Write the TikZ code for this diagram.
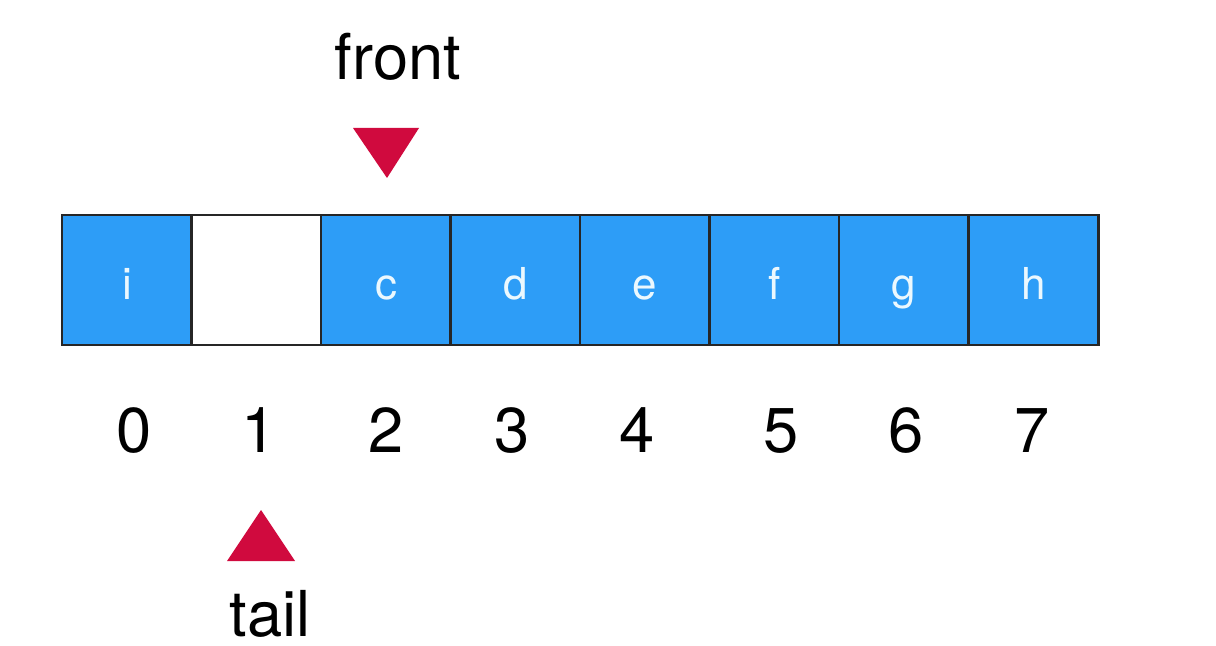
\documentclass[tikz,border=0pt]{standalone}
\usepackage{fontspec}
\setmainfont{TeX Gyre Heros}
\usetikzlibrary{positioning}
\definecolor{cellblue}{RGB}{45,157,247}
\definecolor{ptrred}{RGB}{208,10,62}
\tikzset{every node/.style={inner sep=0pt, outer sep=0pt},
  cell/.style={draw=black!85, line width=0.65pt, minimum width=1.2975cm, minimum height=1.3cm,
    text height=0.38cm, text depth=0pt, text=white!92!cyan, font=\fontsize{12.5}{12.5}\selectfont},
  index/.style={anchor=base, font=\fontsize{18}{18}\selectfont},
  pointer/.style={fill=ptrred, draw=none}}

\begin{document}
\begin{tikzpicture}[x=0.01cm,y=-0.01cm]
  \useasboundingbox (0,0) rectangle (1216,646);
  % the ring buffer
  \foreach \v/\f [count=\i from 0] in {i/cellblue,/white,c/cellblue,d/cellblue,e/cellblue,f/cellblue,g/cellblue,h/cellblue}
    \node[cell, fill=\f] (c\i) at (127+129.5*\i,280) {\v};
  % slot numbers
  \foreach \x [count=\i from 0] in {134,259,386,512,637,781,906,1032}
    \node[index] (n\i) at (\x,452) {\i};
  % pointers
  \node[index] (front) at (398,80) {front};
  \fill[pointer] (353,128) -- (419,128) -- (387,178) -- cycle;
  \fill[pointer] (227,561) -- (295,561) -- (261,510) -- cycle;
  \node[index] (tail) at (270,636) {tail};
\end{tikzpicture}
\end{document}
